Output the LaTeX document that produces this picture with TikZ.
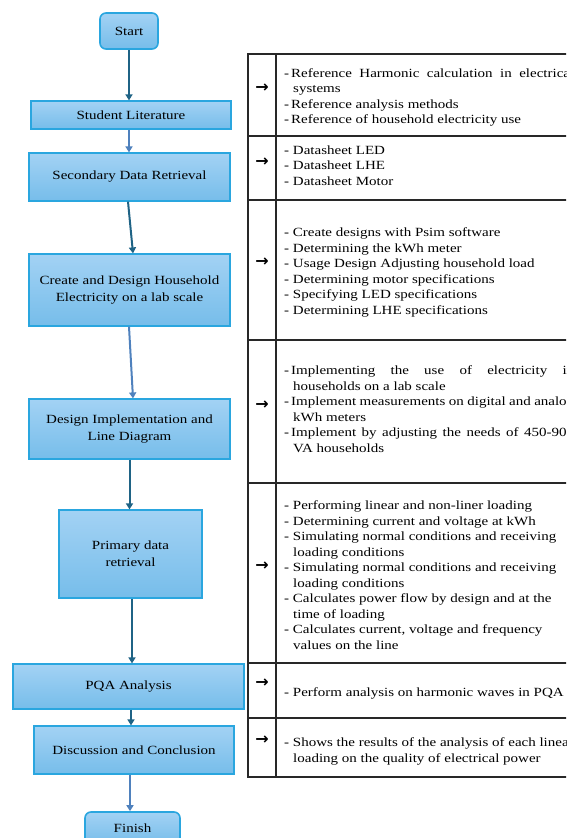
\documentclass[tikz,border=0pt]{standalone}
\usepackage{fontspec}
\setmainfont{Liberation Serif}[FakeStretch=1.2]
\newfontfamily\arrowfont{DejaVu Sans}
\usetikzlibrary{arrows.meta}
\definecolor{boxtop}{RGB}{163,210,244}
\definecolor{boxbot}{RGB}{118,189,234}
\definecolor{boxline}{RGB}{42,166,223}
\definecolor{arrowdark}{RGB}{31,99,133}
\definecolor{arrowlight}{RGB}{79,129,189}
\definecolor{tableline}{RGB}{40,40,40}
\newcommand{\itm}[1]{\par\noindent\hangindent=9pt\hangafter=1\relax\hyphenpenalty=10000\relax - #1\par}
\newcommand{\itmc}[1]{\par\noindent\hangindent=9pt\hangafter=1\relax\hyphenpenalty=10000\relax -\hspace{2pt}#1\par}

\begin{document}
\begin{tikzpicture}[x=1pt, y=-1pt,
		box/.style={draw=boxline, line width=1.2pt, top color=boxtop, bottom color=boxbot,
			font=\fontsize{12.5}{17}\selectfont, align=center, inner sep=2pt},
		term/.style={box, rounded corners=6pt, line width=1.6pt},
		flowdark/.style={draw=arrowdark, line width=2pt, -{Triangle[width=7pt,length=6pt]}},
		flowlight/.style={draw=arrowlight, line width=2pt, -{Triangle[width=7pt,length=6pt]}},
		cell/.style={font=\fontsize{12.5}{15.5}\selectfont,
			text width=290pt, inner sep=0pt, anchor=west, align=justify},
		pointer/.style={font=\arrowfont\bfseries\fontsize{16}{16}\selectfont, inner sep=0pt}]
	\useasboundingbox (0,0) rectangle (566,838);
	\clip (0,0) rectangle (566,838);
	% flow chart
	\node[term, minimum width=58pt, minimum height=36pt] (start) at (129,31) {Start};
	\node[box, minimum width=200pt, minimum height=28pt] (lit) at (131,115) {Student Literature};
	\node[box, minimum width=201pt, minimum height=48pt] (sec) at (129.5,177) {Secondary Data Retrieval};
	\node[box, minimum width=201pt, minimum height=72pt] (cre) at (129.5,290) {Create and Design Household\\Electricity on a lab scale};
	\node[box, minimum width=201pt, minimum height=60pt] (imp) at (129.5,429) {Design Implementation and\\Line Diagram};
	\node[box, minimum width=143pt, minimum height=88pt] (pri) at (130.5,554) {Primary data\\retrieval};
	\node[box, minimum width=231pt, minimum height=45pt] (pqa) at (128.5,686.5) {PQA Analysis};
	\node[box, minimum width=200pt, minimum height=48pt] (dis) at (134,750) {Discussion and Conclusion};
	\node[term, minimum width=95pt, minimum height=32pt] (fin) at (132.5,828) {Finish};

	\draw[flowdark] (start.south) -- (start.south |- lit.north);
	\draw[flowlight] ([xshift=-2pt]lit.south) -- ([xshift=-2pt]lit.south |- sec.north);
	\draw[flowdark] ([xshift=-1.5pt]sec.south) -- ([xshift=3.5pt]cre.north);
	\draw[flowlight] ([xshift=-0.5pt]cre.south) -- ([xshift=3.5pt]imp.north);
	\draw[flowdark] (imp.south) -- (imp.south |- pri.north);
	\draw[flowdark] ([xshift=1.5pt]pri.south) -- ([xshift=1.5pt]pri.south |- pqa.north);
	\draw[flowdark] ([xshift=2.5pt]pqa.south) -- ([xshift=2.5pt]pqa.south |- dis.north);
	\draw[flowlight] ([xshift=-4pt]dis.south) -- ([xshift=-4pt]dis.south |- fin.north);

	% table
	\draw[draw=tableline, line width=1.3pt] (248,54) rectangle (620,777);
	\draw[draw=tableline, line width=1.3pt] (276,54) -- (276,777);
	\foreach \y in {136,200,340,483,663,718}
		\draw[draw=tableline, line width=1.3pt] (248,\y) -- (620,\y);
	\foreach \y [count=\i] in {88,162,262,405,566,683,740}
		\node[pointer] (ptr\i) at (262,\y) {→};

	\node[cell] (ref) at (284,94) {\itmc{Reference Harmonic calculation in electrical\linebreak systems}\itmc{Reference analysis methods}\itmc{Reference of household electricity use}};
	\node[cell] (sheet) at (284,162) {\itm{Datasheet LED}\itm{Datasheet LHE}\itm{Datasheet Motor}};
	\node[cell] (design) at (284,269) {\itm{Create designs with Psim software}\itm{Determining the kWh meter}\itm{Usage Design Adjusting household load}\itm{Determining motor specifications}\itm{Specifying LED specifications}\itm{Determining LHE specifications}};
	\node[cell] (implement) at (284,406) {\itmc{Implementing the use of electricity in\linebreak households on a lab scale}\itmc{Implement measurements on digital and analog\linebreak kWh meters}\itmc{Implement by adjusting the needs of 450-900\linebreak VA households}};
	\node[cell] (primary) at (284,572) {\itm{Performing linear and non-liner loading}\itm{Determining current and voltage at kWh}\itm{Simulating normal conditions and receiving\newline loading conditions}\itm{Simulating normal conditions and receiving\newline loading conditions}\itm{Calculates power flow by design and at the\newline time of loading}\itm{Calculates current, voltage and frequency\newline values on the line}};
	\node[cell] (analysis) at (284,690) {\itm{Perform analysis on harmonic waves in PQA}};
	\node[cell] (result) at (284,748) {\itm{Shows the results of the analysis of each linear\newline loading on the quality of electrical power}};
\end{tikzpicture}
\end{document}
